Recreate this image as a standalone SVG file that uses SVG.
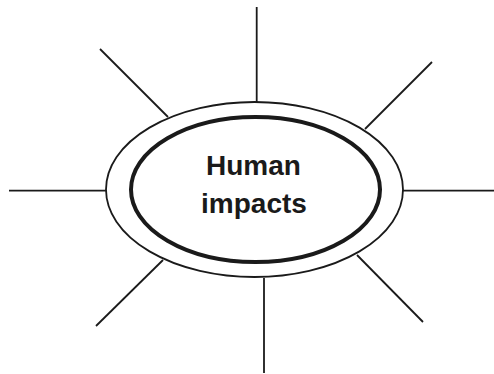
<svg xmlns="http://www.w3.org/2000/svg" width="494" height="374" viewBox="0 0 494 374">
<style>
.ray{stroke:#1a1a1a;stroke-width:1.8;fill:none}
.outer{fill:#fff;stroke:#1a1a1a;stroke-width:1.8}
.inner{fill:#fff;stroke:#1a1a1a;stroke-width:4}
.lbl{font-family:"Liberation Sans",Arial,sans-serif;font-weight:bold;font-size:28px;fill:#1a1a1a;text-anchor:middle}
</style>
<rect width="494" height="374" fill="#fff"/>
<g id="connectors">
<line class="ray" x1="256.7" y1="7" x2="256.7" y2="102"/>
<line class="ray" x1="100" y1="49" x2="168" y2="117"/>
<line class="ray" x1="432" y1="62" x2="365" y2="129"/>
<line class="ray" x1="9" y1="190.7" x2="106" y2="190.7"/>
<line class="ray" x1="403" y1="190.7" x2="494" y2="190.7"/>
<line class="ray" x1="163" y1="260" x2="96" y2="326"/>
<line class="ray" x1="264" y1="278" x2="264" y2="373"/>
<line class="ray" x1="357" y1="255" x2="423" y2="322"/>
</g>
<g id="center">
<ellipse class="outer" cx="254.5" cy="189.5" rx="148.5" ry="87.5"/>
<ellipse class="inner" cx="255.5" cy="189.5" rx="124.5" ry="72.5"/>
<text class="lbl" x="253.5" y="175">Human</text>
<text class="lbl" x="254" y="213">impacts</text>
</g>
</svg>
